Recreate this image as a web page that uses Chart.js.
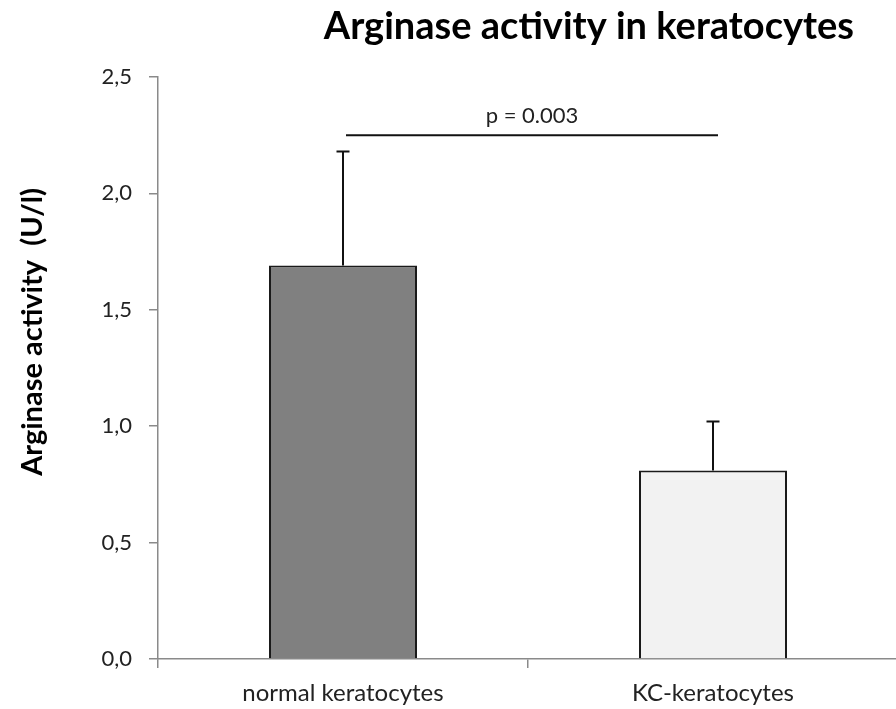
<!DOCTYPE html>
<html>
<head>
<meta charset="utf-8">
<script src="https://cdn.jsdelivr.net/npm/chart.js@4/dist/chart.umd.min.js"></script>
<style>
  html, body { margin: 0; padding: 0; background: #fff; overflow: hidden; }
  #wrap { width: 900px; height: 709px; }
</style>
</head>
<body>
<div id="wrap"><canvas id="chart"></canvas></div>
<script>
const categories = ["normal keratocytes", "KC-keratocytes"];
const meanActivity = [1.69, 0.81];
const sdActivity = [0.49, 0.21];
const barColors = ["#808080", "#f2f2f2"];
const yTicks = [0, 0.5, 1, 1.5, 2, 2.5];
const pValueLabel = "p = 0.003";
const pLineLevel = 2.25;
const chartTitle = "Arginase activity in keratocytes";
const yAxisTitle = "Arginase activity  (U/l)";

const FONT = "Lato, 'Open Sans', sans-serif";
const axisGray = "#8a8a8a";

// error bars, significance line, title and y title
const extras = {
  id: "extras",
  afterDatasetsDraw(chart) {
    const { ctx, scales: { x, y } } = chart;
    ctx.save();
    ctx.strokeStyle = "#111";
    ctx.lineWidth = 2;
    meanActivity.forEach((m, i) => {
      const px = x.getPixelForValue(i);
      const top = y.getPixelForValue(m + sdActivity[i]);
      ctx.beginPath();
      ctx.moveTo(px, y.getPixelForValue(m));
      ctx.lineTo(px, top);
      ctx.moveTo(px - 6.5, top);
      ctx.lineTo(px + 6.5, top);
      ctx.stroke();
    });

    const py = y.getPixelForValue(pLineLevel);
    const x0 = x.getPixelForValue(0) + 3;
    const x1 = x.getPixelForValue(1) + 5;
    ctx.beginPath();
    ctx.moveTo(x0, py);
    ctx.lineTo(x1, py);
    ctx.stroke();

    ctx.fillStyle = "#222";
    ctx.font = "22px " + FONT;
    ctx.textAlign = "center";
    ctx.textBaseline = "middle";
    ctx.fillText(pValueLabel, (x0 + x1) / 2, py - 19);

    ctx.fillStyle = "#000";
    ctx.font = "bold 38px " + FONT;
    ctx.textAlign = "right";
    ctx.textBaseline = "alphabetic";
    ctx.fillText(chartTitle, 854, 39);

    ctx.translate(33, 332);
    ctx.rotate(-Math.PI / 2);
    ctx.font = "bold 29px " + FONT;
    ctx.textAlign = "center";
    ctx.textBaseline = "middle";
    ctx.fillText(yAxisTitle, 0, 0);
    ctx.restore();
  }
};

new Chart(document.getElementById("chart"), {
  type: "bar",
  data: {
    labels: categories,
    datasets: [{
      data: meanActivity,
      backgroundColor: barColors,
      borderColor: "#1a1a1a",
      borderWidth: 2,
      barPercentage: 0.4,
      categoryPercentage: 1.0
    }]
  },
  options: {
    responsive: true,
    maintainAspectRatio: false,
    animation: false,
    layout: { padding: { top: 77, right: 2, left: 0, bottom: 0 } },
    plugins: {
      legend: { display: false },
      title: { display: false },
      tooltip: { enabled: false }
    },
    scales: {
      x: {
        afterFit(scale) { scale.height = 50; },
        grid: {
          offset: true,
          drawOnChartArea: false,
          drawTicks: true,
          tickLength: 9,
          color: axisGray,
          lineWidth: 1.5
        },
        border: { color: axisGray, width: 1.5 },
        ticks: {
          color: "#222",
          padding: 11,
          font: { family: FONT, size: 24 }
        }
      },
      y: {
        min: 0,
        max: 2.5,
        afterFit(scale) { scale.width = 158; },
        afterBuildTicks(scale) { scale.ticks = yTicks.map(v => ({ value: v })); },
        grid: {
          drawOnChartArea: false,
          drawTicks: true,
          tickLength: 9,
          color: axisGray,
          lineWidth: 1.5
        },
        border: { color: axisGray, width: 1.5 },
        ticks: {
          color: "#222",
          padding: 17,
          font: { family: FONT, size: 22 },
          callback: v => v.toFixed(1).replace(".", ",")
        }
      }
    }
  },
  plugins: [extras]
});
</script>
</body>
</html>
